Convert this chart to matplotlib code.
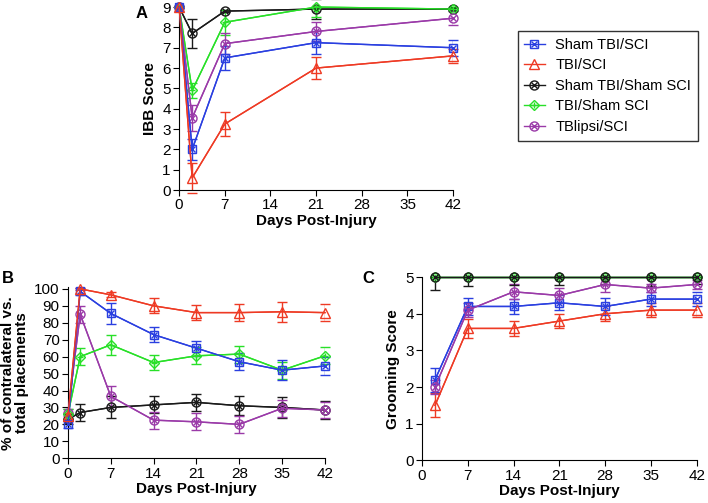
import matplotlib
matplotlib.use('Agg')
import matplotlib.pyplot as plt
from matplotlib.legend_handler import HandlerTuple

plt.rcParams['font.family'] = ['Liberation Sans', 'DejaVu Sans']

groups = ['Sham TBI/SCI', 'TBI/SCI', 'Sham TBI/Sham SCI', 'TBI/Sham SCI', 'TBlipsi/SCI']
colors = ['#2a3fe0', '#ee3a24', '#1a1a1a', '#28e028', '#9a3aa8']

# panel A: IBB score
days_a = [0, 2, 7, 21, 42]
ibb = {
    'Sham TBI/SCI': [9, 2.0, 6.5, 7.25, 7.0],
    'TBI/SCI': [9, 0.6, 3.25, 6.0, 6.6],
    'Sham TBI/Sham SCI': [9, 7.7, 8.8, 8.9, 8.9],
    'TBI/Sham SCI': [9, 4.9, 8.25, 9.0, 8.9],
    'TBlipsi/SCI': [9, 3.55, 7.2, 7.8, 8.45],
}
ibb_err = {
    'Sham TBI/SCI': [0, 0.5, 0.6, 0.55, 0.4],
    'TBI/SCI': [0, 0.75, 0.6, 0.55, 0.35],
    'Sham TBI/Sham SCI': [0, 0.7, 0.05, 0.5, 0.05],
    'TBI/Sham SCI': [0, 0.35, 0.6, 0.5, 0.1],
    'TBlipsi/SCI': [0, 0.65, 0.5, 0.45, 0.35],
}

# panel B: placements
days_b = [0, 2, 7, 14, 21, 28, 35, 42]
place = {
    'Sham TBI/SCI': [20, 98.5, 85.5, 73, 65, 57, 52, 54.5],
    'TBI/SCI': [25, 100, 96.5, 90, 86, 86, 86.5, 86],
    'Sham TBI/Sham SCI': [23, 27, 30, 31.5, 33, 31, 30, 28.5],
    'TBI/Sham SCI': [26, 60, 67, 56.5, 60.5, 61.5, 52, 60.5],
    'TBlipsi/SCI': [27, 85, 36.5, 22.5, 21.5, 20, 29.5, 28.5],
}
place_err = {
    'Sham TBI/SCI': [2, 2, 6, 4.5, 4.5, 5, 6, 5.5],
    'TBI/SCI': [2, 0.5, 1.5, 4.5, 4.5, 5, 6, 5],
    'Sham TBI/Sham SCI': [3, 5, 6.5, 5, 5, 5.5, 6, 5.5],
    'TBI/Sham SCI': [3, 5, 6, 4.5, 5, 5, 5, 5],
    'TBlipsi/SCI': [2, 5, 6, 5, 5, 5, 5, 5],
}

# panel C: grooming
days_c = [2, 7, 14, 21, 28, 35, 42]
groom = {
    'Sham TBI/SCI': [2.2, 4.2, 4.2, 4.3, 4.2, 4.4, 4.4],
    'TBI/SCI': [1.5, 3.6, 3.6, 3.8, 4.0, 4.1, 4.1],
    'Sham TBI/Sham SCI': [5, 5, 5, 5, 5, 5, 5],
    'TBI/Sham SCI': [5, 5, 5, 5, 5, 5, 5],
    'TBlipsi/SCI': [2.0, 4.1, 4.6, 4.5, 4.8, 4.7, 4.8],
}
groom_err = {
    'Sham TBI/SCI': [0.33, 0.22, 0.2, 0.2, 0.22, 0.2, 0.2],
    'TBI/SCI': [0.33, 0.25, 0.2, 0.2, 0.2, 0.2, 0.2],
    'Sham TBI/Sham SCI': [0.35, 0.23, 0.22, 0.22, 0.2, 0.25, 0.2],
    'TBI/Sham SCI': [0, 0, 0, 0, 0, 0, 0],
    'TBlipsi/SCI': [0.2, 0.2, 0.2, 0.2, 0.2, 0.1, 0.12],
}

outer = {'Sham TBI/SCI': 's', 'TBI/SCI': '^', 'Sham TBI/Sham SCI': 'o',
         'TBI/Sham SCI': 'D', 'TBlipsi/SCI': 'o'}
inner = {'Sham TBI/SCI': 'x', 'TBI/SCI': None, 'Sham TBI/Sham SCI': 'x',
         'TBI/Sham SCI': '+', 'TBlipsi/SCI': 'x'}
outer_ms = {'s': 6, '^': 7, 'o': 6.5, 'D': 5}


def draw(ax, x, data, err, order, lower_only=()):
    handles = {}
    for g in order:
        c = colors[groups.index(g)]
        e = err[g]
        yerr = [e, [0] * len(e)] if g in lower_only else e
        ax.errorbar(x, data[g], yerr=yerr, color=c, lw=1, capsize=3.5,
                    elinewidth=1, capthick=1, zorder=2)
        h1, = ax.plot(x, data[g], color=c, lw=1, marker=outer[g], ms=outer_ms[outer[g]],
                      mfc='none', mec=c, mew=1, zorder=3)
        hs = [h1]
        if inner[g]:
            h2, = ax.plot(x, data[g], ls='none', marker=inner[g], ms=4, color=c, mew=1, zorder=3)
            hs.append(h2)
        handles[g] = tuple(hs)
    for ln in ax.lines:
        ln.set_clip_on(False)
    return handles


def style(ax, ylim, yticks, ylabel):
    for s in ['top', 'right']:
        ax.spines[s].set_visible(False)
    ax.set_xlim(0, 42)
    ax.set_xticks(range(0, 43, 7))
    ax.set_ylim(*ylim)
    ax.set_yticks(yticks)
    ax.tick_params(labelsize=11, direction='out', length=4, pad=2)
    ax.set_xlabel('Days Post-Injury', fontsize=11, fontweight='bold', labelpad=1)
    ax.set_ylabel(ylabel, fontsize=11, fontweight='bold', labelpad=4, linespacing=1.0)


fig = plt.figure(figsize=(7.08, 5.03), dpi=100)

axA = fig.add_axes([0.253, 0.622, 0.387, 0.364])
hA = draw(axA, days_a, ibb, ibb_err,
          ['Sham TBI/Sham SCI', 'TBI/Sham SCI', 'TBlipsi/SCI', 'Sham TBI/SCI', 'TBI/SCI'])
style(axA, (0, 9), range(0, 10), 'IBB Score')

axB = fig.add_axes([0.096, 0.089, 0.363, 0.340])
draw(axB, days_b, place, place_err,
     ['Sham TBI/Sham SCI', 'TBlipsi/SCI', 'TBI/Sham SCI', 'Sham TBI/SCI', 'TBI/SCI'])
style(axB, (0, 101), range(0, 101, 10), '% of contralateral vs.\ntotal placements')

axC = fig.add_axes([0.596, 0.085, 0.388, 0.364])
draw(axC, days_c, groom, groom_err,
     ['TBI/SCI', 'Sham TBI/SCI', 'TBlipsi/SCI', 'TBI/Sham SCI', 'Sham TBI/Sham SCI'],
     lower_only=('Sham TBI/Sham SCI',))
style(axC, (0, 5), range(0, 6), 'Grooming Score')

fig.text(0.192, 0.965, 'A', fontsize=12, fontweight='bold')
fig.text(0.003, 0.437, 'B', fontsize=12, fontweight='bold')
fig.text(0.512, 0.437, 'C', fontsize=12, fontweight='bold')

leg = fig.legend([hA[g] for g in groups], groups, loc='upper left',
                 bbox_to_anchor=(0.731, 0.938), handler_map={tuple: HandlerTuple(ndivide=1)},
                 frameon=True, fancybox=False, edgecolor='black', fontsize=10.5,
                 handlelength=1.4, labelspacing=0.45, borderpad=0.45, handletextpad=0.75,
                 borderaxespad=0)
leg.get_frame().set_linewidth(1)

fig.savefig('out.png', dpi=100)
